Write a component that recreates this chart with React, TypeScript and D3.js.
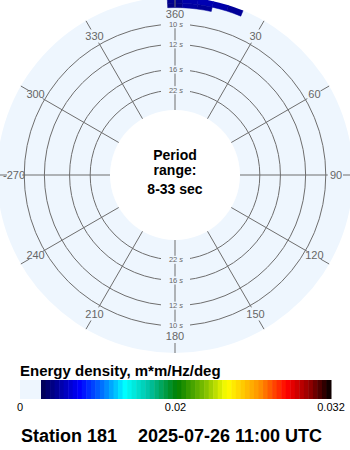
import React from "react";
import * as d3 from "d3";

// ---- data ----
const periodRange = [8, 33]; // seconds
const ringPeriods = [10, 12, 16, 22];
const angleTicks = [0, 30, 60, 90, 120, 150, 180, 210, 240, 270, 300, 330];
const angleLabels = ["360", "30", "60", "90", "120", "150", "180", "210", "240", "-270", "300", "330"];

// energy cells (direction bin centres, 5 deg wide) at two frequency bins
const dirBinWidth = 5;
const outerBinFreq = [0.1175, 0.125];
const innerBinFreq = [0.1138, 0.1175];
const outerDirs = [0, 5, 10, 15, 20];
const outerValues = [0.0036, 0.0042, 0.0044, 0.0042, 0.0038];
const innerDirs = [0, 5, 10];
const innerValues = [0.0034, 0.004, 0.0038];

// colour scale
const energyMax = 0.032;
const energyMin = 0.00216;
const stopValues = [0.00216, 0.00617, 0.00875, 0.0108, 0.01338, 0.01615, 0.01903, 0.0213, 0.0247, 0.02747, 0.02984, 0.032];
const stopColors = ["#000050", "#0000ff", "#0080ff", "#00ffff", "#00c0a0", "#008000", "#80c000", "#ffff00", "#ff9000", "#ff0000", "#900000", "#000000"];
const legendTicks = ["0", "0.02", "0.032"];

const legendTitle = "Energy density, m*m/Hz/deg";
const stationText = "Station 181";
const dateText = "2025-07-26 11:00 UTC";

const W = 350;
const H = 450;
const cx = 175;
const cy = 175;
const discR = 178;
const holeR = 65;
const discFill = "#eef6fe";
const gridColor = "#6e6e6e";
const font = "'Liberation Sans', Arial, sans-serif";

export default function App() {
  const rScale = d3.scaleLinear().domain([1 / periodRange[1], 1 / periodRange[0]]).range([66.5, 181]);
  const color = d3.scaleLinear<string>().domain(stopValues).range(stopColors).interpolate(d3.interpolateRgb).clamp(true);
  const colorOf = (v: number) => (v < energyMin ? discFill : color(v));
  const rad = (d: number) => (d * Math.PI) / 180;
  const pt = (deg: number, r: number) => [cx + r * Math.sin(rad(deg)), cy - r * Math.cos(rad(deg))];

  const arcGen = d3.arc();
  const cellArc = (dir: number, f: number[]) =>
    arcGen({
      innerRadius: rScale(f[0]),
      outerRadius: rScale(f[1]),
      startAngle: rad(dir - dirBinWidth / 2),
      endAngle: rad(dir + dirBinWidth / 2),
    } as any) as string;

  const r10 = rScale(1 / ringPeriods[0]);

  // legend
  const lx = d3.scaleLinear().domain([0, energyMax]).range([20, 331]);
  const tickPos = d3.scalePoint<string>().domain(legendTicks).range([20, 331]);
  const nSteps = 64;
  const steps = d3.range(nSteps).map((i) => energyMin + ((energyMax - energyMin) * i) / nSteps);
  const stepW = (energyMax - energyMin) / nSteps;

  return (
    <svg width={W} height={H} style={{ position: "absolute", left: 0, top: 0, display: "block", background: "#fff" }}>
      <defs>
        <clipPath id="disc" clipPathUnits="userSpaceOnUse">
          <circle cx={cx} cy={cy} r={discR} />
        </clipPath>
      </defs>
      <circle cx={cx} cy={cy} r={discR} fill={discFill} />
      <g clipPath="url(#disc)">
        <g transform={`translate(${cx},${cy})`}>
          {outerDirs.map((d, i) => (
            <path key={"o" + i} d={cellArc(d, outerBinFreq)} fill={colorOf(outerValues[i])} stroke={colorOf(outerValues[i])} strokeWidth={0.5} />
          ))}
          {innerDirs.map((d, i) => (
            <path key={"i" + i} d={cellArc(d, innerBinFreq)} fill={colorOf(innerValues[i])} stroke={colorOf(innerValues[i])} strokeWidth={0.5} />
          ))}
        </g>
      </g>
      <circle cx={cx} cy={cy} r={holeR} fill="#fff" />
      {/* rings */}
      {ringPeriods.map((p) => (
        <circle key={p} cx={cx} cy={cy} r={rScale(1 / p)} fill="none" stroke={gridColor} strokeWidth={1} />
      ))}
      {/* spokes */}
      {angleTicks.map((a, i) => {
        const [x1, y1] = pt(a, holeR);
        const [x2, y2] = pt(a, r10 + 2);
        const [x3, y3] = pt(a, 168);
        const [x4, y4] = pt(a, discR);
        const [lxp, lyp] = pt(a, 161);
        return (
          <g key={a}>
            <line x1={x1} y1={y1} x2={x2} y2={y2} stroke={gridColor} strokeWidth={1} />
            <line x1={x3} y1={y3} x2={x4} y2={y4} stroke={gridColor} strokeWidth={1} />
            <text x={lxp} y={lyp} dy="0.36em" textAnchor="middle" fontFamily={font} fontSize={11} fill="#666">
              {angleLabels[i]}
            </text>
          </g>
        );
      })}
      {/* ring labels */}
      {ringPeriods.map((p) =>
        [-1, 1].map((s) => {
          const y = cy + s * rScale(1 / p);
          return (
            <g key={p + "_" + s}>
              <rect x={cx - 14} y={y - 4} width={29} height={8} fill={discFill} />
              <text x={cx + 1} y={y} dy="0.33em" textAnchor="middle" fontFamily={font} fontSize={7.5} fill="#666">
                {p} <tspan fontStyle="italic">s</tspan>
              </text>
            </g>
          );
        })
      )}
      {/* centre text */}
      <g fontFamily={font} fontWeight="bold" fontSize={14} fill="#000" textAnchor="middle">
        <text x={cx} y={cy - 15}>Period</text>
        <text x={cx} y={cy}>range:</text>
        <text x={cx} y={cy + 19}>{`${periodRange[0]}-${periodRange[1]} sec`}</text>
      </g>
      {/* legend */}
      <text x={20} y={376} fontFamily={font} fontWeight="bold" fontSize={15} fill="#000">
        {legendTitle}
      </text>
      <rect x={lx(0)} y={380} width={lx(energyMin) - lx(0)} height={19} fill={discFill} />
      {steps.map((v, i) => (
        <rect key={i} x={lx(v)} y={380} width={lx(v + stepW) - lx(v) + 0.5} height={19} fill={color(v + stepW / 2)} />
      ))}
      {legendTicks.map((t) => (
        <text key={t} x={tickPos(t)} y={411} textAnchor="middle" fontFamily={font} fontSize={11} fill="#000">
          {t}
        </text>
      ))}
      <text x={21} y={442} fontFamily={font} fontWeight="bold" fontSize={18} fill="#000">
        {stationText}
      </text>
      <text x={138} y={442} fontFamily={font} fontWeight="bold" fontSize={18} fill="#000">
        {dateText}
      </text>
    </svg>
  );
}
